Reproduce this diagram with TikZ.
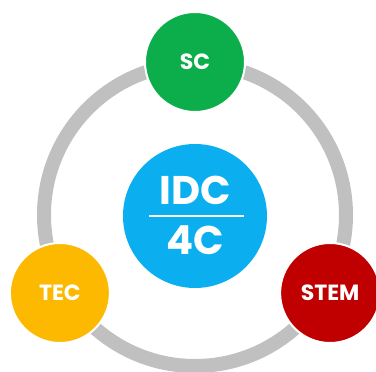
\documentclass[tikz,border=0pt]{standalone}
\usepackage{fontspec}
\setmainfont{Poppins}

\definecolor{scgreen}{HTML}{0BAE4A}
\definecolor{tecyellow}{HTML}{FDB900}
\definecolor{stemred}{HTML}{C00000}
\definecolor{hubblue}{HTML}{0BAFEF}
\definecolor{ringgray}{HTML}{C0C0C0}

\begin{document}
\begin{tikzpicture}[x=0.75pt, y=0.75pt,
    bubble/.style={circle, draw=white, line width=1.5pt, minimum size=75pt,
      inner sep=0pt, text=white, font=\fontsize{16.5}{19}\selectfont\bfseries},
    hubtext/.style={text=white, inner sep=0pt, font=\fontsize{30}{36}\selectfont\bfseries},
    ring/.style={draw=ringgray, line width=10.5pt}]
  \useasboundingbox (-195,-157) rectangle (181,215);

  % gray loop behind the bubbles
  \draw[ring] (0,0) circle[radius=151];

  % middle disc
  \node[circle, fill=hubblue, minimum size=108pt, inner sep=0pt] (hub) at (0,-1) {};
  \node[hubtext] (idc) at (0,25) {IDC};
  \node[hubtext] (fourc) at (0,-25) {4C};
  \draw[white, line width=1.5pt] (-46,-1) -- (49,-1);

  % the three outer bubbles
  \node[bubble, fill=scgreen] (sc) at (90:153) {SC};
  \node[bubble, fill=tecyellow] (tec) at (210:156) {TEC};
  \node[bubble, fill=stemred] (stem) at (330:156) {STEM};
\end{tikzpicture}
\end{document}
